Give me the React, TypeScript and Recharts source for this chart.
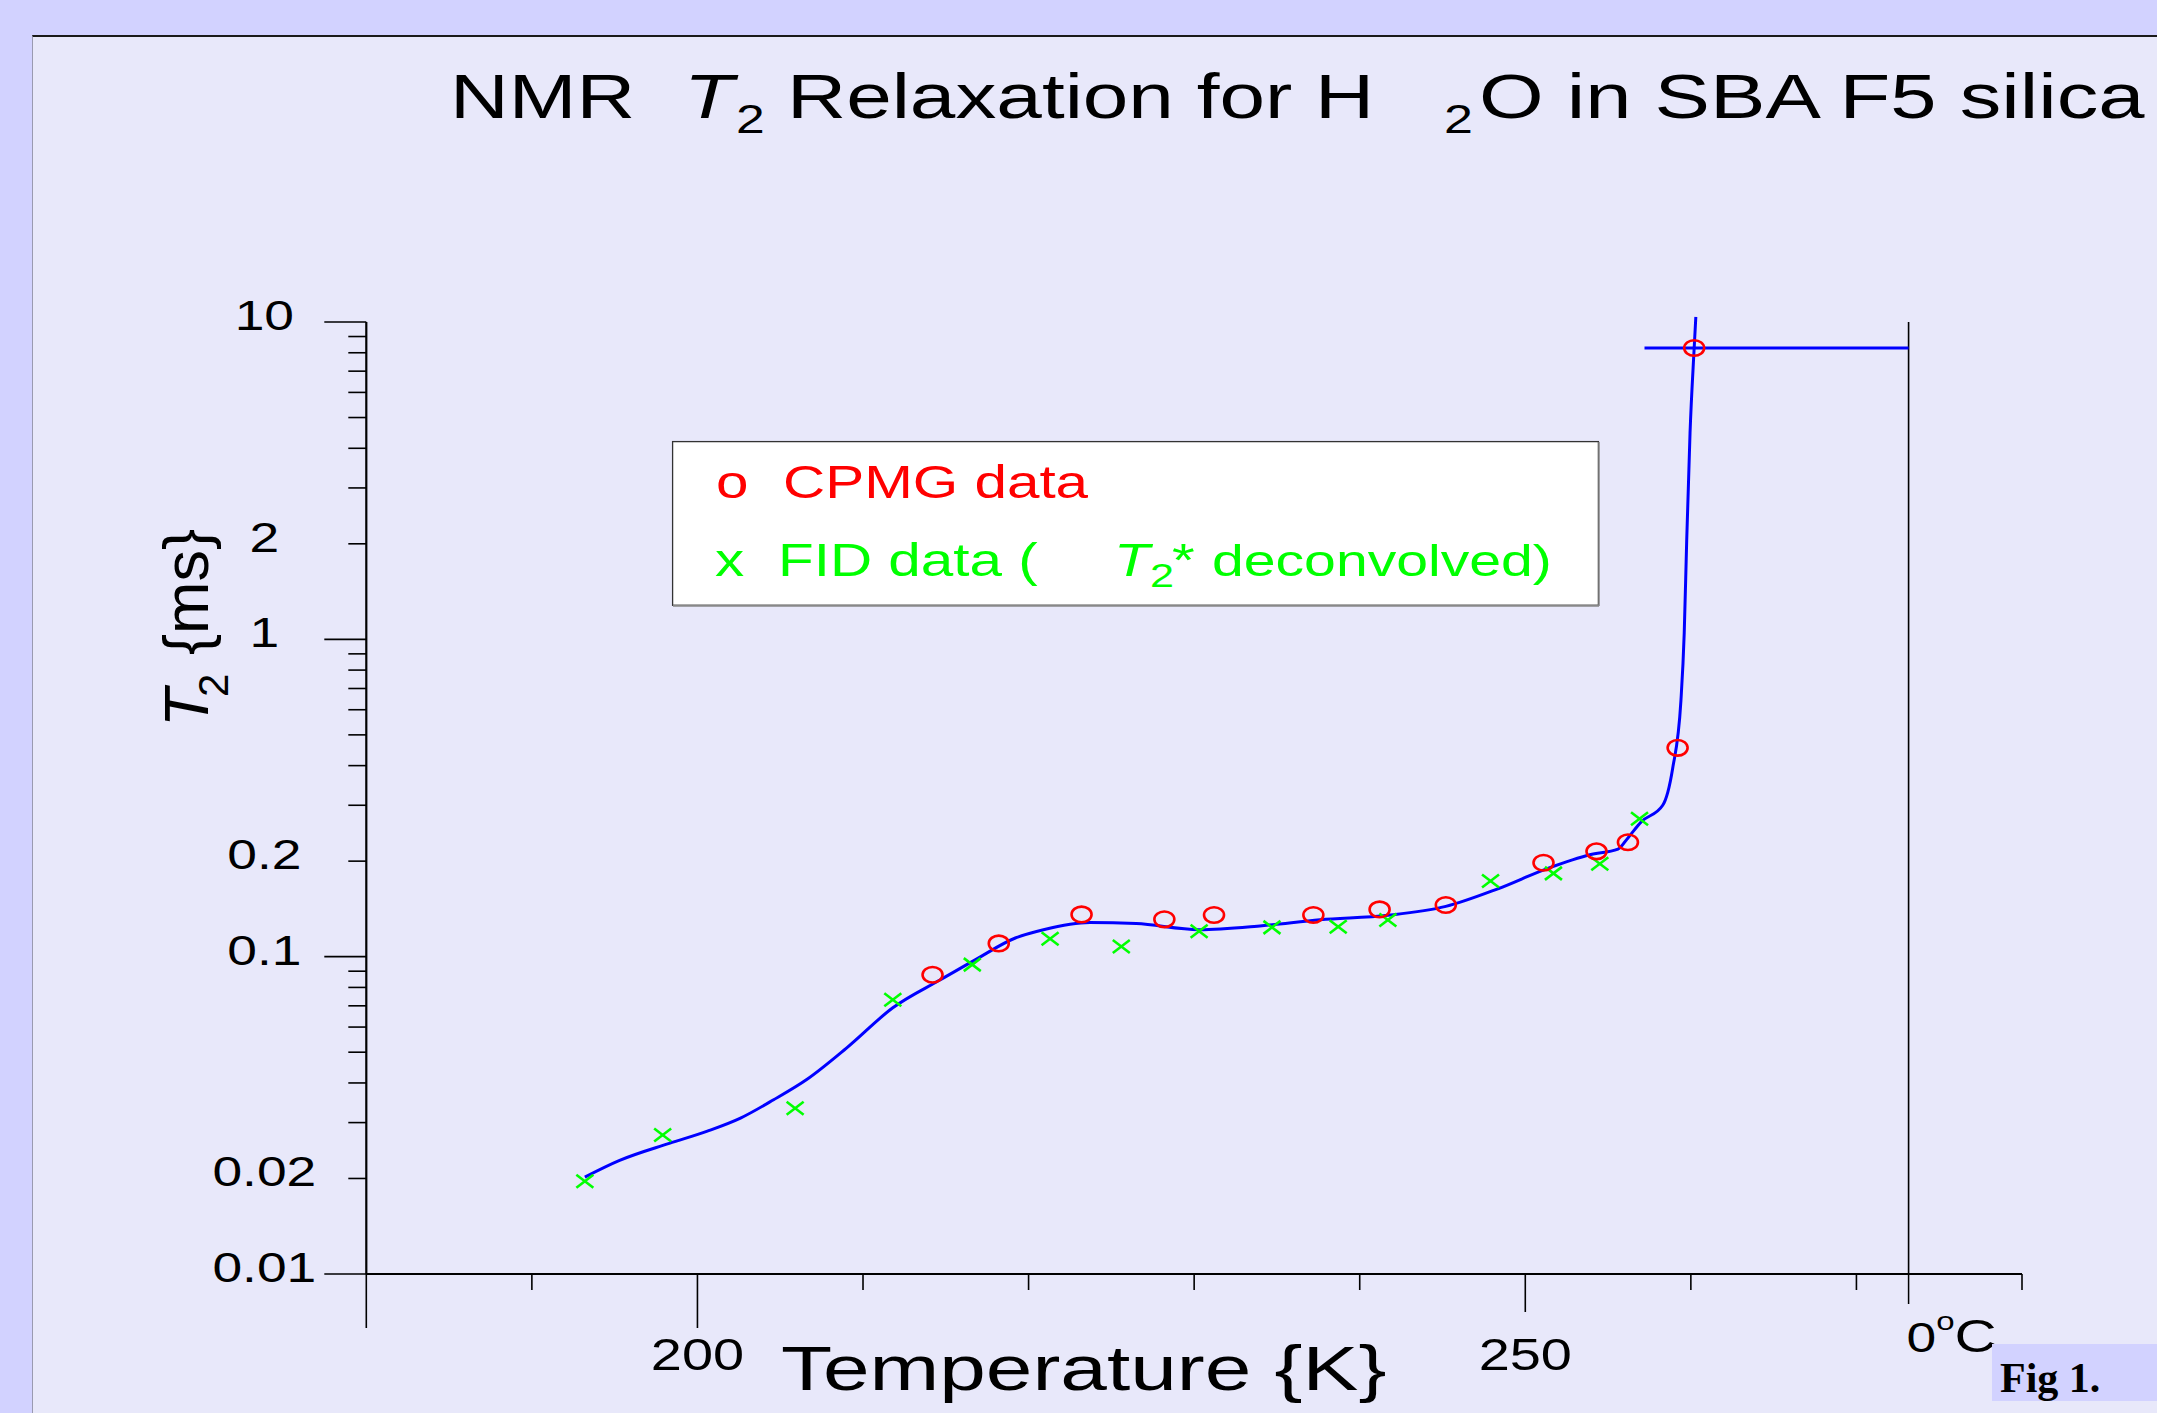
import React from 'react';
import { ComposedChart, Line, Scatter, XAxis, YAxis, ReferenceLine } from 'recharts';

// Temperature (K) and T2 (ms)
const CPMG_T = [214.2, 218.2, 223.2, 228.2, 231.2, 237.2, 241.2, 245.2, 251.1, 254.3, 256.2, 259.2, 260.2];
const CPMG_V = [0.0877, 0.1101, 0.1359, 0.1311, 0.1353, 0.1353, 0.1409, 0.1455, 0.1977, 0.2147, 0.2294, 0.455, 8.28];

const FID_T = [193.2, 197.9, 205.9, 211.8, 216.6, 221.3, 225.6, 230.3, 234.7, 238.7, 241.7, 247.9, 251.7, 254.5, 256.9];
const FID_V = [0.0196, 0.0274, 0.0333, 0.0732, 0.0944, 0.1139, 0.1077, 0.1202, 0.1237, 0.1243, 0.1305, 0.1731, 0.183, 0.1963, 0.272];

// fitted curve
const FIT_T = [193.2, 195.3, 198.3, 200.6, 202.6, 204.6, 206.6, 209.0, 211.8, 214.7, 216.8, 219.2, 220.9, 223.7, 226.5, 230.3, 234.1, 237.6, 241.7, 245.2, 248.3, 251.4, 253.9, 255.6, 256.2, 257.0, 258.3, 258.9, 259.4, 259.6, 259.75, 259.95, 260.2, 260.3];
const FIT_V = [0.0202, 0.0228, 0.0258, 0.0282, 0.031, 0.0354, 0.041, 0.0515, 0.069, 0.0847, 0.0979, 0.1145, 0.1216, 0.1282, 0.1271, 0.1216, 0.1252, 0.1307, 0.135, 0.144, 0.1633, 0.1902, 0.2096, 0.2183, 0.2367, 0.266, 0.3, 0.392, 0.641, 1.049, 2.06, 4.47, 8.28, 10.38];

// bulk water T2 plateau
const PLATEAU_T = [257.2, 273.15];
const PLATEAU_V = [8.28, 8.28];

const ZERO_C = 273.15;
const X_TICKS = [180, 190, 200, 210, 220, 230, 240, 250, 260, 270, ZERO_C, 280];
const X_LABELS = [200, 250];
const Y_TICKS = [
  0.01, 0.02, 0.03, 0.04, 0.05, 0.06, 0.07, 0.08, 0.09,
  0.1, 0.2, 0.3, 0.4, 0.5, 0.6, 0.7, 0.8, 0.9,
  1, 2, 3, 4, 5, 6, 7, 8, 9, 10,
];
const Y_MAJOR = [0.01, 0.1, 1, 10];
const Y_LABELS = [0.01, 0.02, 0.1, 0.2, 1, 2, 10];

const cpmg = CPMG_T.map((t, i) => ({ t, v: CPMG_V[i] }));
const fid = FID_T.map((t, i) => ({ t, v: FID_V[i] }));
const fit = FIT_T.map((t, i) => ({ t, v: FIT_V[i] }));
const plateau = PLATEAU_T.map((t, i) => ({ t, v: PLATEAU_V[i] }));

const SANS = "'Liberation Sans', Arial, sans-serif";

// the original lettering is stretched sideways
function SText({ x, y, size, anchor = 'start', fill = '#000', italic = false, sx = 1.27, children }: any) {
  return (
    <g transform={`translate(${x},${y}) scale(${sx},1)`}>
      <text x={0} y={0} fontSize={size} textAnchor={anchor} fill={fill} fontFamily={SANS} fontStyle={italic ? 'italic' : 'normal'}>
        {children}
      </text>
    </g>
  );
}

const XTick = ({ x, y, payload }: any) => {
  const v = payload.value;
  const isZero = Math.abs(v - ZERO_C) < 0.01;
  let len = 16;
  if (v === 180 || v === 200) len = 54;
  else if (v === 250) len = 38;
  else if (isZero) len = 30;
  return (
    <g>
      <line x1={x} x2={x} y1={y} y2={y + len} stroke="#000" strokeWidth={isZero ? 1.5 : 1.6} />
      {X_LABELS.includes(v) && (
        <SText x={x} y={y + 96} size={44} anchor="middle">{String(v)}</SText>
      )}
      {isZero && (
        <SText x={x - 2} y={y + 78} size={42}>
          <tspan>0</tspan>
          <tspan fontSize={26} dy={-22}>o</tspan>
          <tspan dy={22} fontSize={46}>C</tspan>
        </SText>
      )}
    </g>
  );
};

const YTick = ({ x, y, payload }: any) => {
  const v = payload.value;
  const len = Y_MAJOR.includes(v) ? 42 : 18;
  return (
    <g>
      <line x1={x - len} x2={x} y1={y} y2={y} stroke="#000" strokeWidth={1.6} />
      {Y_LABELS.includes(v) && (
        <SText x={x - 102} y={y + 8} size={42} anchor="middle">{String(v)}</SText>
      )}
    </g>
  );
};

const Ring = (p: any) => (
  <ellipse cx={p.cx} cy={p.cy} rx={10} ry={7.8} fill="none" stroke="#ff0000" strokeWidth={2.6} />
);

const Cross = (p: any) => (
  <g stroke="#00ff00" strokeWidth={2.6}>
    <line x1={p.cx - 8.5} y1={p.cy - 6.5} x2={p.cx + 8.5} y2={p.cy + 6.5} />
    <line x1={p.cx - 8.5} y1={p.cy + 6.5} x2={p.cx + 8.5} y2={p.cy - 6.5} />
  </g>
);

export default function App() {
  return (
    <div style={{ position: 'absolute', left: 0, top: 0, width: 2157, height: 1413, overflow: 'hidden', background: '#d2d2ff' }}>
      <div style={{ position: 'absolute', left: 32, top: 35, right: 0, bottom: 0, background: '#e8e8fa', borderTop: '2px solid #1a1a1a', borderLeft: '1px solid #9a9ab0' }} />

      <div style={{ position: 'absolute', left: 0, top: 0 }}>
        <ComposedChart width={2157} height={1413} margin={{ top: 316.6, right: 135, bottom: 138, left: 365.3 }}>
          <XAxis
            type="number"
            dataKey="t"
            domain={[180, 280]}
            allowDataOverflow
            ticks={X_TICKS}
            interval={0}
            height={1}
            tickSize={0}
            tickMargin={0}
            axisLine={{ stroke: '#000', strokeWidth: 2 }}
            tickLine={false}
            tick={(p: any) => <XTick {...p} />}
          />
          <YAxis
            type="number"
            scale="log"
            domain={[0.01, 10.4]}
            allowDataOverflow
            ticks={Y_TICKS}
            interval={0}
            width={1}
            tickSize={0}
            tickMargin={0}
            axisLine={false}
            tickLine={false}
            tick={(p: any) => <YTick {...p} />}
          />
          <ReferenceLine segment={[{ x: 180, y: 10 }, { x: 180, y: 0.01 }]} stroke="#000" strokeWidth={2.2} />
          <ReferenceLine segment={[{ x: ZERO_C, y: 10 }, { x: ZERO_C, y: 0.01 }]} stroke="#000" strokeWidth={1.6} />
          <Line data={fit} dataKey="v" type="monotone" stroke="#0000ff" strokeWidth={3} dot={false} isAnimationActive={false} />
          <Line data={plateau} dataKey="v" type="linear" stroke="#0000ff" strokeWidth={3} dot={false} isAnimationActive={false} />
          <Scatter data={fid} dataKey="v" shape={Cross} isAnimationActive={false} />
          <Scatter data={cpmg} dataKey="v" shape={Ring} isAnimationActive={false} />
        </ComposedChart>
      </div>

      <svg width={2157} height={1413} style={{ position: 'absolute', left: 0, top: 0, pointerEvents: 'none' }}>
        {/* title */}
        <SText x={450} y={118} size={63} sx={1.29}>NMR</SText>
        <SText x={684} y={118} size={63} italic sx={1.29}>T</SText>
        <SText x={736} y={133} size={40} sx={1.29}>2</SText>
        <SText x={787} y={118} size={63} sx={1.3}>Relaxation for H</SText>
        <SText x={1444} y={133} size={40} sx={1.3}>2</SText>
        <SText x={1479} y={118} size={63} sx={1.32}>O in SBA F5 silica</SText>

        {/* y axis title */}
        <text transform="translate(208,727) rotate(-90)" fontSize={63} fontFamily={SANS} fill="#000">
          <tspan fontStyle="italic">T</tspan>
          <tspan x={30} dy={20} fontSize={42}>2</tspan>
          <tspan x={72} dy={-20}>{'{ms}'}</tspan>
        </text>

        {/* x axis title */}
        <SText x={781} y={1390} size={63} sx={1.33}>Temperature {'{K}'}</SText>

        {/* legend */}
        <rect x={672.6} y={441.6} width={925.8} height={163.7} fill="#ffffff" stroke="#333" strokeWidth={1.3} />
        <line x1={673} y1={605.8} x2={1599} y2={605.8} stroke="#888" strokeWidth={2} />
        <line x1={1599} y1={442} x2={1599} y2={606} stroke="#888" strokeWidth={1.5} />
        <SText x={716} y={498} size={46} fill="#ff0000">o</SText>
        <SText x={783} y={498} size={46} fill="#ff0000">CPMG data</SText>
        <SText x={715} y={576} size={46} fill="#00ff00">x</SText>
        <SText x={778} y={576} size={46} fill="#00ff00">FID data (</SText>
        <SText x={1114} y={576} size={46} fill="#00ff00" italic>T</SText>
        <SText x={1150} y={587} size={34} fill="#00ff00">2</SText>
        <SText x={1172} y={576} size={46} fill="#00ff00">*</SText>
        <SText x={1212} y={576} size={45} fill="#00ff00">deconvolved)</SText>

        {/* figure tag */}
        <rect x={1992} y={1344} width={165} height={57} fill="#d2d2ff" />
        <text x={2000} y={1392} fontSize={42} fontWeight="bold" fontFamily="'Liberation Serif', 'Times New Roman', serif" fill="#000">Fig 1.</text>
      </svg>
    </div>
  );
}
